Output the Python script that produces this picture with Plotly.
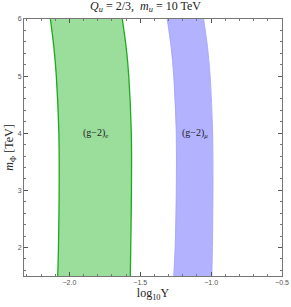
import plotly.graph_objects as go

# m_Phi values [TeV]
m_vals = [1.5, 2.0, 3.0, 4.0, 5.0, 5.5, 6.0]
# (g-2)_e band edges in log10 Y
green_left = [-2.082, -2.077, -2.072, -2.074, -2.092, -2.109, -2.134]
green_right = [-1.570, -1.567, -1.562, -1.563, -1.581, -1.599, -1.627]
# (g-2)_mu band edges in log10 Y
blue_left = [-1.264, -1.254, -1.246, -1.246, -1.264, -1.282, -1.310]
blue_right = [-0.995, -0.991, -0.987, -0.989, -1.007, -1.025, -1.053]

x_ticks = [-2.0, -1.5, -1.0, -0.5]
x_tick_text = ["\u22122.0", "\u22121.5", "\u22121.0", "\u22120.5"]
y_ticks = [2, 3, 4, 5, 6]

fig = go.Figure()

def band(left, right, fill, line_color, lw):
    xs = list(left) + list(reversed(right)) + [left[0]]
    ys = list(m_vals) + list(reversed(m_vals)) + [m_vals[0]]
    fig.add_trace(go.Scatter(x=xs, y=ys, mode="none", fill="toself",
                             fillcolor=fill, hoverinfo="skip", showlegend=False))
    for edge in (left, right):
        fig.add_trace(go.Scatter(x=edge, y=m_vals, mode="lines",
                                 line=dict(color=line_color, width=lw, shape="spline"),
                                 hoverinfo="skip", showlegend=False))

band(green_left, green_right, "rgb(155,221,155)", "rgb(30,170,30)", 1.3)
band(blue_left, blue_right, "rgb(178,178,255)", "rgb(160,160,255)", 0.8)

fig.add_annotation(x=-1.817, y=4.0, text="(g\u22122)<sub><i>e</i></sub>", showarrow=False,
                   font=dict(family="Liberation Serif", size=10, color="#222"))
fig.add_annotation(x=-1.113, y=4.0, text="(g\u22122)<sub><i>\u03bc</i></sub>", showarrow=False,
                   font=dict(family="Liberation Serif", size=10, color="#222"))

axis_common = dict(showgrid=False, zeroline=False, showline=True, linecolor="#777",
                   linewidth=1, mirror="ticks", ticks="inside", tickcolor="#555",
                   ticklen=4, automargin=False,
                   tickfont=dict(family="Liberation Sans", size=7, color="#555"))

fig.update_xaxes(range=[-2.32, -0.5], tickvals=x_ticks, ticktext=x_tick_text,
                 minor=dict(ticks="inside", ticklen=2, dtick=0.1, tickcolor="#777"),
                 title=dict(text="log<sub>10</sub>Y", standoff=3,
                            font=dict(family="Liberation Serif", size=12, color="#222")),
                 **axis_common)
fig.update_yaxes(range=[1.5, 6.0], tickvals=y_ticks,
                 minor=dict(ticks="inside", ticklen=2, dtick=0.2, tickcolor="#777"),
                 title=dict(text="<i>m</i><sub>\u03a6</sub> [TeV]", standoff=1,
                            font=dict(family="Liberation Serif", size=12, color="#222")),
                 **axis_common)

fig.update_layout(
    width=291, height=307,
    margin=dict(l=24, r=9, t=19, b=31, autoexpand=False),
    paper_bgcolor="white", plot_bgcolor="white",
    title=dict(text="<i>Q<sub>u</sub></i> = 2/3,  <i>m<sub>u</sub></i> = 10 TeV",
               x=0.5, xanchor="center", y=0.995, yanchor="top",
               font=dict(family="Liberation Serif", size=12, color="#222")),
)

fig.write_html("out.html", config={"displayModeBar": False},
               post_script="document.body.style.margin='0';document.body.style.overflow='hidden';")
